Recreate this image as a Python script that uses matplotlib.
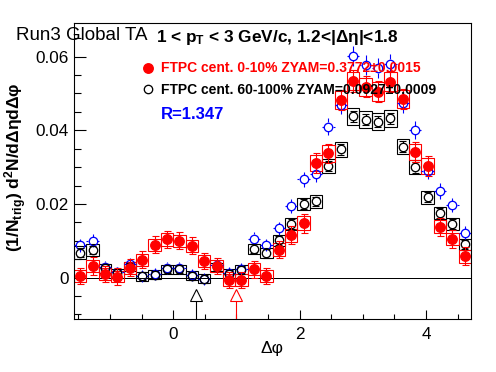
import numpy as np
import matplotlib
matplotlib.use("Agg")
import matplotlib.pyplot as plt
from matplotlib.ticker import MultipleLocator, FixedLocator, FuncFormatter

plt.rcParams['font.family'] = ['Liberation Sans', 'DejaVu Sans']
plt.rcParams['mathtext.fontset'] = 'custom'
plt.rcParams['mathtext.rm'] = 'Liberation Sans'
plt.rcParams['mathtext.bf'] = 'Liberation Sans:bold'
plt.rcParams['mathtext.it'] = 'Liberation Sans:italic'

# ---------------- data ----------------
nbins = 32
phi_lo, phi_hi = -np.pi / 2, 3 * np.pi / 2
edges = np.linspace(phi_lo, phi_hi, nbins + 1)
dphi = 0.5 * (edges[:-1] + edges[1:])
binw = edges[1] - edges[0]

red_y = [0.0005, 0.0031, 0.0010, 0.0003, 0.0027, 0.0048, 0.0089, 0.0104,
         0.0100, 0.0086, 0.0046, 0.0032, -0.0007, -0.0007, 0.0023, 0.0005,
         0.0076, 0.0115, 0.0147, 0.0311, 0.0337, 0.0482, 0.0534, 0.0518,
         0.0505, 0.0532, 0.0485, 0.0341, 0.0303, 0.0138, 0.0105, 0.0058]
red_stat = [0.0022, 0.0024, 0.0022, 0.0022, 0.0023, 0.0023, 0.0023, 0.0023,
            0.0023, 0.0023, 0.0022, 0.0022, 0.0022, 0.0022, 0.0023, 0.0022,
            0.0024, 0.0024, 0.0025, 0.0026, 0.0027, 0.0028, 0.0029, 0.0029,
            0.0029, 0.0029, 0.0028, 0.0027, 0.0026, 0.0025, 0.0024, 0.0024]
red_sys = [0.0016, 0.0017, 0.0016, 0.0016, 0.0016, 0.0016, 0.0017, 0.0017,
           0.0017, 0.0017, 0.0016, 0.0016, 0.0016, 0.0016, 0.0016, 0.0016,
           0.0017, 0.0018, 0.0019, 0.0022, 0.0022, 0.0024, 0.0025, 0.0025,
           0.0025, 0.0025, 0.0024, 0.0022, 0.0021, 0.0018, 0.0017, 0.0017]

black_y = [0.0068, 0.0075, 0.0025, 0.0012, 0.0030, 0.0004, 0.0008, 0.0023,
           0.0023, 0.0005, -0.0003, 0.0029, 0.0011, 0.0021, 0.0078, 0.0066,
           0.0101, 0.0146, 0.0200, 0.0207, 0.0303, 0.0348, 0.0438, 0.0428,
           0.0423, 0.0433, 0.0355, 0.0299, 0.0218, 0.0176, 0.0146, 0.0091]
black_stat = [0.0012, 0.0012, 0.0011, 0.0011, 0.0011, 0.0011, 0.0011, 0.0011,
              0.0011, 0.0011, 0.0011, 0.0011, 0.0011, 0.0011, 0.0012, 0.0012,
              0.0012, 0.0013, 0.0013, 0.0013, 0.0014, 0.0014, 0.0015, 0.0015,
              0.0015, 0.0015, 0.0015, 0.0014, 0.0014, 0.0013, 0.0013, 0.0012]
black_sys = [0.0017, 0.0017, 0.0012, 0.0012, 0.0012, 0.0012, 0.0012, 0.0012,
             0.0012, 0.0012, 0.0012, 0.0012, 0.0012, 0.0012, 0.0014, 0.0014,
             0.0015, 0.0016, 0.0017, 0.0017, 0.0019, 0.0020, 0.0023, 0.0023,
             0.0023, 0.0023, 0.0020, 0.0019, 0.0018, 0.0017, 0.0016, 0.0015]

blue_y = [0.0088, 0.0100, 0.0030, 0.0014, 0.0036, 0.0005, 0.0010, 0.0027,
          0.0027, 0.0007, -0.0003, 0.0033, 0.0012, 0.0024, 0.0106, 0.0089,
          0.0134, 0.0195, 0.0267, 0.0281, 0.0410, 0.0469, 0.0601, 0.0577,
          0.0568, 0.0581, 0.0474, 0.0401, 0.0290, 0.0235, 0.0197, 0.0121]
blue_stat = [0.0018, 0.0018, 0.0016, 0.0016, 0.0016, 0.0016, 0.0016, 0.0016,
             0.0016, 0.0016, 0.0016, 0.0016, 0.0016, 0.0016, 0.0017, 0.0017,
             0.0018, 0.0019, 0.0020, 0.0021, 0.0023, 0.0024, 0.0027, 0.0027,
             0.0027, 0.0027, 0.0026, 0.0024, 0.0022, 0.0021, 0.0020, 0.0019]

arrow_x = [0.364, 1.0]
arrow_colors = ['black', 'red']

legend_labels = ['FTPC cent. 0-10% ZYAM=0.3772\u00b10.0015',
                 'FTPC cent. 60-100% ZYAM=0.0927\u00b10.0009']
ratio_label = 'R=1.347'

xlim = (phi_lo, phi_hi)
ylim = (-0.0111, 0.0692)
xticks = [0, 2, 4]
yticks = [0, 0.02, 0.04, 0.06]

# ---------------- figure ----------------
W, H = 496, 372
fig = plt.figure(figsize=(W / 100, H / 100), dpi=100)
L, R_, T, B = 74, 471, 22.7, 318.5
ax = fig.add_axes([L / W, 1 - B / H, (R_ - L) / W, (B - T) / H])
ax.set_xlim(*xlim)
ax.set_ylim(*ylim)

px = 0.72  # one pixel in points
ax_w_px, ax_h_px = R_ - L, B - T
dy_px = (ylim[1] - ylim[0]) / ax_h_px
dx_px = (xlim[1] - xlim[0]) / ax_w_px

red_y = np.array(red_y); black_y = np.array(black_y); blue_y = np.array(blue_y)
red_stat = np.array(red_stat); black_stat = np.array(black_stat); blue_stat = np.array(blue_stat)
red_sys = np.array(red_sys); black_sys = np.array(black_sys)

# zero line
ax.axhline(0, color='black', lw=1.0 * px, zorder=1)

# systematic boxes
ax.bar(dphi, 2 * black_sys, bottom=black_y - black_sys, width=binw, fill=False,
       edgecolor='black', linewidth=1.1 * px, zorder=2)
ax.bar(dphi, 2 * red_sys, bottom=red_y - red_sys, width=binw, fill=False,
       edgecolor='red', linewidth=1.1 * px, zorder=2.2)

# blue (scaled) open circles: cross-shaped error bars outside the circle
gap_y = 4.2 * dy_px
gap_x = 4.2 * dx_px
ax.vlines(dphi, blue_y + gap_y, blue_y + blue_stat, color='blue', lw=1.1 * px, zorder=3)
ax.vlines(dphi, blue_y - blue_stat, blue_y - gap_y, color='blue', lw=1.1 * px, zorder=3)
ax.hlines(blue_y, dphi - binw / 2, dphi - gap_x, color='blue', lw=1.1 * px, zorder=3)
ax.hlines(blue_y, dphi + gap_x, dphi + binw / 2, color='blue', lw=1.1 * px, zorder=3)
ax.plot(dphi, blue_y, 'o', ms=8.4 * px, mfc='none', mec='blue', mew=1.3 * px, zorder=3.1)

# black open circles with capped error bars
capw = 3.5 * dx_px
ax.vlines(dphi, black_y + gap_y, black_y + black_stat, color='black', lw=1.1 * px, zorder=4)
ax.vlines(dphi, black_y - black_stat, black_y - gap_y, color='black', lw=1.1 * px, zorder=4)
ax.hlines(black_y + black_stat, dphi - capw, dphi + capw, color='black', lw=1.1 * px, zorder=4)
ax.hlines(black_y - black_stat, dphi - capw, dphi + capw, color='black', lw=1.1 * px, zorder=4)
ax.plot(dphi, black_y, 'o', ms=8.4 * px, mfc='none', mec='black', mew=1.3 * px, zorder=4.1)

# red filled circles
ax.errorbar(dphi, red_y, yerr=red_stat, fmt='o', ms=9.5 * px, mfc='red', mec='red',
            ecolor='red', elinewidth=1.1 * px, capsize=3.5 * px, capthick=1.1 * px,
            zorder=5)

# arrows (open triangles on stems)
tri_y = ylim[0] + (B - 295.3) * dy_px
for xa, ca in zip(arrow_x, arrow_colors):
    ax.vlines(xa, ylim[0], tri_y - 4.5 * dy_px, color=ca, lw=1.1 * px, zorder=6)
    ax.plot([xa], [tri_y], marker='^', ms=12 * px, mfc='white', mec=ca, mew=1.1 * px,
            zorder=6, clip_on=False)

# axes styling
for s in ax.spines.values():
    s.set_linewidth(1.1 * px)
ax.xaxis.set_major_locator(FixedLocator(xticks))
ax.xaxis.set_minor_locator(MultipleLocator(0.5))
ax.yaxis.set_major_locator(FixedLocator(yticks))
ax.yaxis.set_minor_locator(MultipleLocator(0.005))
ax.yaxis.set_major_formatter(FuncFormatter(lambda v, p: '0' if abs(v) < 1e-9 else '%.2f' % v))
ax.xaxis.set_major_formatter(FuncFormatter(lambda v, p: '%d' % round(v)))
ax.tick_params(axis='both', which='both', direction='in', top=False, right=False,
               width=1.1 * px, labelsize=12.3)
ax.tick_params(axis='y', which='major', length=12 * px, pad=4)
ax.tick_params(axis='y', which='minor', length=6.5 * px)
ax.tick_params(axis='x', which='major', length=9 * px, pad=6)
ax.tick_params(axis='x', which='minor', length=5 * px)

# ---------------- texts ----------------
def ft(xp, yp, s, **kw):
    return fig.text(xp / W, 1 - yp / H, s, **kw)

ft(16, 39.5, 'Run3 Global TA', fontsize=13.5, ha='left', va='baseline')
ft(156, 42.3, r'1 < p$_{\mathbf{T}}$ < 3 GeV/c, 1.2<|\u0394\u03b7|<1.8'.replace('\\u0394', '\u0394').replace('\\u03b7', '\u03b7'),
   fontsize=12.4, fontweight='bold', ha='left', va='baseline')

# legend
fig.lines.append(plt.Line2D([147.7 / W], [1 - 67.7 / H], marker='o', ms=9.5 * px, mfc='red',
                            mec='red', ls='none', transform=fig.transFigure, figure=fig))
fig.lines.append(plt.Line2D([147.7 / W], [1 - 89.3 / H], marker='o', ms=8.4 * px, mfc='none',
                            mec='black', mew=1.3 * px, ls='none', transform=fig.transFigure, figure=fig))
ft(161, 72.3, legend_labels[0], fontsize=10, fontweight='bold', color='red', ha='left', va='baseline')
ft(161, 94.3, legend_labels[1], fontsize=10, fontweight='bold', color='black', ha='left', va='baseline')
ft(161, 119, ratio_label, fontsize=12, fontweight='bold', color='blue', ha='left', va='baseline')

# axis titles
ft(271.7, 353.3, '\u0394\u03c6', fontsize=12.5, ha='center', va='baseline')
ft(16, 167, r'(1/N$_{\mathbf{trig}}$) d$^{\mathbf{2}}$N/d' + '\u0394\u03b7d\u0394\u03c6',
   fontsize=12.5, fontweight='bold', rotation=90, ha='center', va='center')

fig.savefig('out.png', dpi=100)
